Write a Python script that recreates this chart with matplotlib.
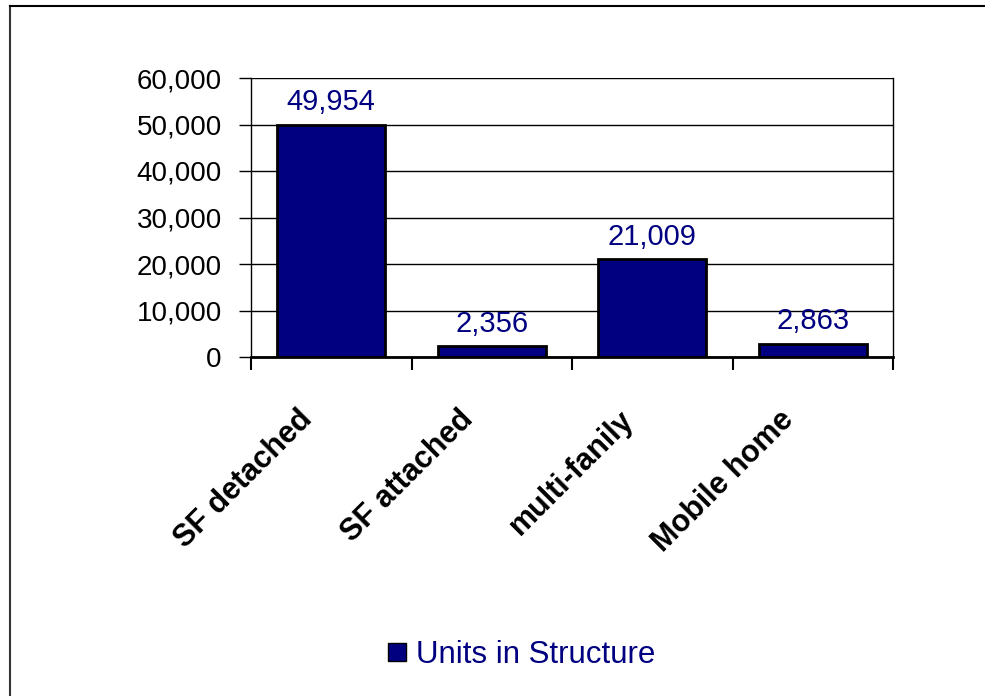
import matplotlib.pyplot as plt
from matplotlib.lines import Line2D
from matplotlib.ticker import FuncFormatter
from matplotlib.transforms import ScaledTranslation
import numpy as np

plt.rcParams['font.family'] = ['Liberation Sans', 'DejaVu Sans']

# data
categories = ['SF detached', 'SF attached', 'multi-fanily', 'Mobile home']
units = [49954, 2356, 21009, 2863]
series_name = 'Units in Structure'

navy = '#000080'

fig = plt.figure(figsize=(9.85, 6.96), dpi=100)
ax = fig.add_axes([251 / 985, 1 - 357 / 696, 642 / 985, 279 / 696])

x = np.arange(len(categories))
bars = ax.bar(x, units, width=0.67, color=navy, edgecolor='black', linewidth=2,
              zorder=3)

for xi, v in zip(x, units):
    ax.annotate(f'{v:,}', (xi, v), xytext=(0, 6), textcoords='offset points',
                ha='center', va='bottom', color=navy, fontsize=21)

ax.set_xlim(-0.5, len(categories) - 0.5)
ax.set_ylim(0, 60000)
ax.set_yticks(range(0, 60001, 10000))
ax.yaxis.set_major_formatter(FuncFormatter(lambda v, p: f'{int(v):,}'))
ax.tick_params(axis='y', labelsize=20, length=9, width=1, direction='out', pad=12)
ax.grid(axis='y', color='black', linewidth=1, zorder=0)

# category boundary ticks
ax.set_xticks(np.arange(-0.5, len(categories), 1.0))
ax.set_xticklabels([])
ax.tick_params(axis='x', length=9, width=1.5, direction='out')
ax.set_xticks(x, minor=True)
ax.set_xticklabels(categories, minor=True, rotation=45, ha='right',
                   rotation_mode='anchor', fontsize=22, fontweight='bold')
ax.tick_params(axis='x', which='minor', length=0, pad=30)
shift = ScaledTranslation(-0.34, -0.06, fig.dpi_scale_trans)
for lbl in ax.get_xticklabels(minor=True):
    lbl.set_transform(lbl.get_transform() + shift)

ax.spines['top'].set_visible(False)
ax.spines['left'].set_linewidth(1)
ax.spines['right'].set_linewidth(1)
ax.spines['bottom'].set_linewidth(2)

# legend
handle = Line2D([], [], marker='s', linestyle='none', markersize=13,
                markerfacecolor=navy, markeredgecolor='black')
leg = fig.legend([handle], [series_name], loc='center',
                 bbox_to_anchor=(518 / 985, 1 - 655 / 696), frameon=False,
                 fontsize=22.5, handletextpad=0.1, handlelength=1.0)
for t in leg.get_texts():
    t.set_color(navy)

# outer border (left and top edges of the chart area)
fig.add_artist(Line2D([10 / 985, 10 / 985], [0, 1 - 6 / 696], color='#333333',
                      linewidth=1.5, transform=fig.transFigure))
fig.add_artist(Line2D([10 / 985, 1], [1 - 6 / 696, 1 - 6 / 696], color='black',
                      linewidth=1.5, transform=fig.transFigure))

fig.savefig('out.png', dpi=100)
